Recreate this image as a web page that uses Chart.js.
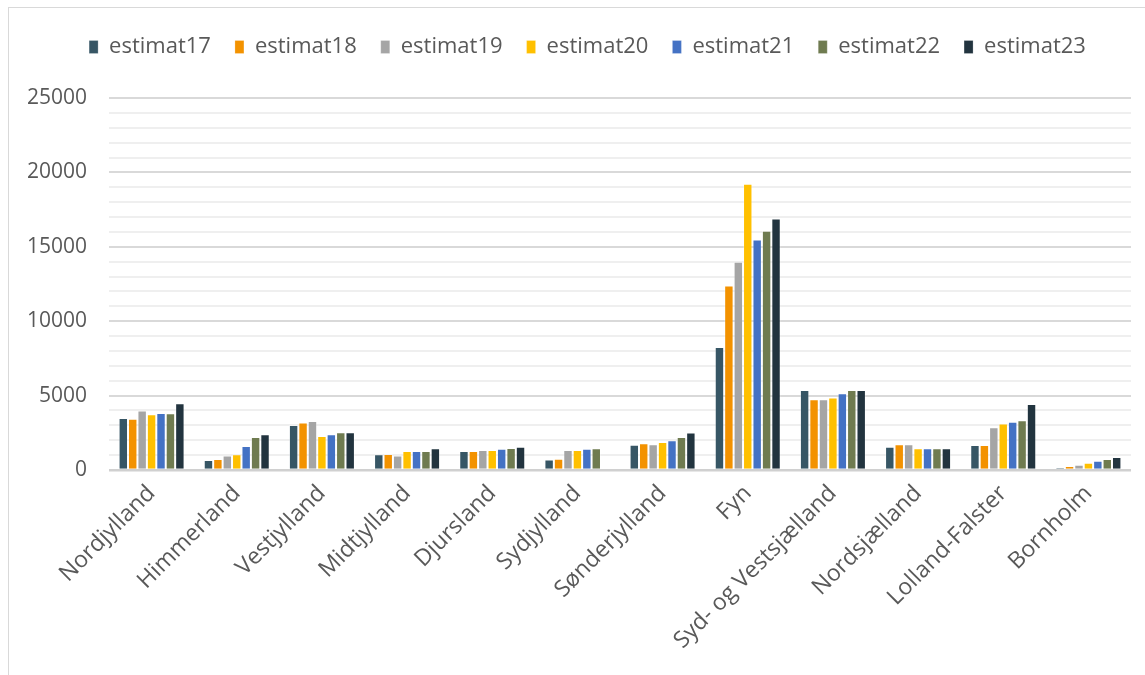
<!DOCTYPE html>
<html>
<head>
<meta charset="utf-8">
<script src="https://cdn.jsdelivr.net/npm/chart.js@4.4.1/dist/chart.umd.min.js"></script>
<style>
  html, body { margin: 0; padding: 0; background: #ffffff; overflow: hidden; }
  #frame { position: absolute; left: 8px; top: 7px; width: 1200px; height: 700px; border: 1px solid #d9d9d9; box-sizing: border-box; }
  #wrap { position: absolute; left: 0; top: 0; width: 1145px; height: 675px; }
</style>
</head>
<body>
<div id="frame"></div>
<div id="wrap"><canvas id="c" width="1145" height="675"></canvas></div>
<script>
const categories = ['Nordjylland','Himmerland','Vestjylland','Midtjylland','Djursland','Sydjylland','Sønderjylland','Fyn','Syd- og Vestsjælland','Nordsjælland','Lolland-Falster','Bornholm'];
const seriesNames = ['estimat17','estimat18','estimat19','estimat20','estimat21','estimat22','estimat23'];
const estimat17 = [3500, 680, 3030, 1060, 1280, 700, 1690, 8270, 5380, 1570, 1680, 160];
const estimat18 = [3450, 740, 3190, 1080, 1280, 760, 1800, 12400, 4750, 1730, 1680, 270];
const estimat19 = [4000, 970, 3300, 970, 1350, 1350, 1730, 13990, 4750, 1730, 2870, 360];
const estimat20 = [3750, 1060, 2290, 1280, 1350, 1350, 1890, 19240, 4870, 1460, 3120, 490];
const estimat21 = [3830, 1620, 2400, 1280, 1420, 1420, 2000, 15490, 5160, 1460, 3250, 630];
const estimat22 = [3810, 2220, 2540, 1280, 1480, 1460, 2220, 16080, 5380, 1460, 3340, 740];
const estimat23 = [4480, 2400, 2540, 1460, 1570, null, 2520, 16900, 5380, 1460, 4440, 880];
const yMin = 0, yMax = 25000, yStep = 1000, yLabelStep = 5000;

const seriesValues = [estimat17, estimat18, estimat19, estimat20, estimat21, estimat22, estimat23];
const colors = ['#375665', '#f39200', '#a5a5a5', '#ffc000', '#4472c4', '#6f7b50', '#22343f'];

const datasets = seriesNames.map((name, i) => ({
  label: name,
  data: seriesValues[i],
  backgroundColor: colors[i],
  borderColor: 'rgba(255,255,255,0.3)',
  borderWidth: {top: 1, left: 1, right: 1, bottom: 0},
  categoryPercentage: 0.775,
  barPercentage: 1.0
}));

const textColor = '#595959';
const fontFamily = '"Open Sans", sans-serif';

const legendSpace = {
  id: 'legendSpace',
  beforeLayout(chart) {
    const lg = chart.legend;
    if (lg && !lg._patched) {
      const f = lg.fit;
      lg.fit = function() { f.call(this); this.height += 30; };
      lg._patched = true;
    }
  },
  afterLayout(chart) {
    const lg = chart.legend;
    if (lg) { lg.left += 22; lg.right += 22; }
  }
};

new Chart(document.getElementById('c'), {
  type: 'bar',
  data: { labels: categories, datasets: datasets },
  plugins: [legendSpace],
  options: {
    responsive: false,
    animation: false,
    layout: { padding: { left: 0, right: 14, top: 12, bottom: 0 } },
    plugins: {
      legend: {
        position: 'top',
        labels: {
          boxWidth: 9,
          boxHeight: 13,
          padding: 24,
          color: textColor,
          font: { family: fontFamily, size: 22 }
        }
      },
      tooltip: { enabled: false }
    },
    scales: {
      x: {
        grid: { display: false, drawTicks: false },
        border: { display: false },
        ticks: {
          color: textColor,
          font: { family: fontFamily, size: 23 },
          minRotation: 45,
          maxRotation: 45,
          padding: 10,
          autoSkip: false
        },
        afterFit(scale) { scale.height = 205; }
      },
      y: {
        min: yMin,
        max: yMax,
        border: { display: false },
        grid: {
          drawTicks: false,
          color: ctx => (ctx.tick && ctx.tick.value === 0) ? '#d0d0d0' : ((ctx.tick && ctx.tick.value % yLabelStep === 0) ? '#d9d9d9' : '#efefef'),
          lineWidth: ctx => (ctx.tick && ctx.tick.value === 0) ? 2.5 : 2
        },
        ticks: {
          stepSize: yStep,
          autoSkip: false,
          color: textColor,
          padding: 22,
          font: { family: fontFamily, size: 21 },
          callback: v => (v % yLabelStep === 0 ? String(v) : '')
        },
        afterFit(scale) { scale.width = 109; }
      }
    }
  }
});
</script>
</body>
</html>
